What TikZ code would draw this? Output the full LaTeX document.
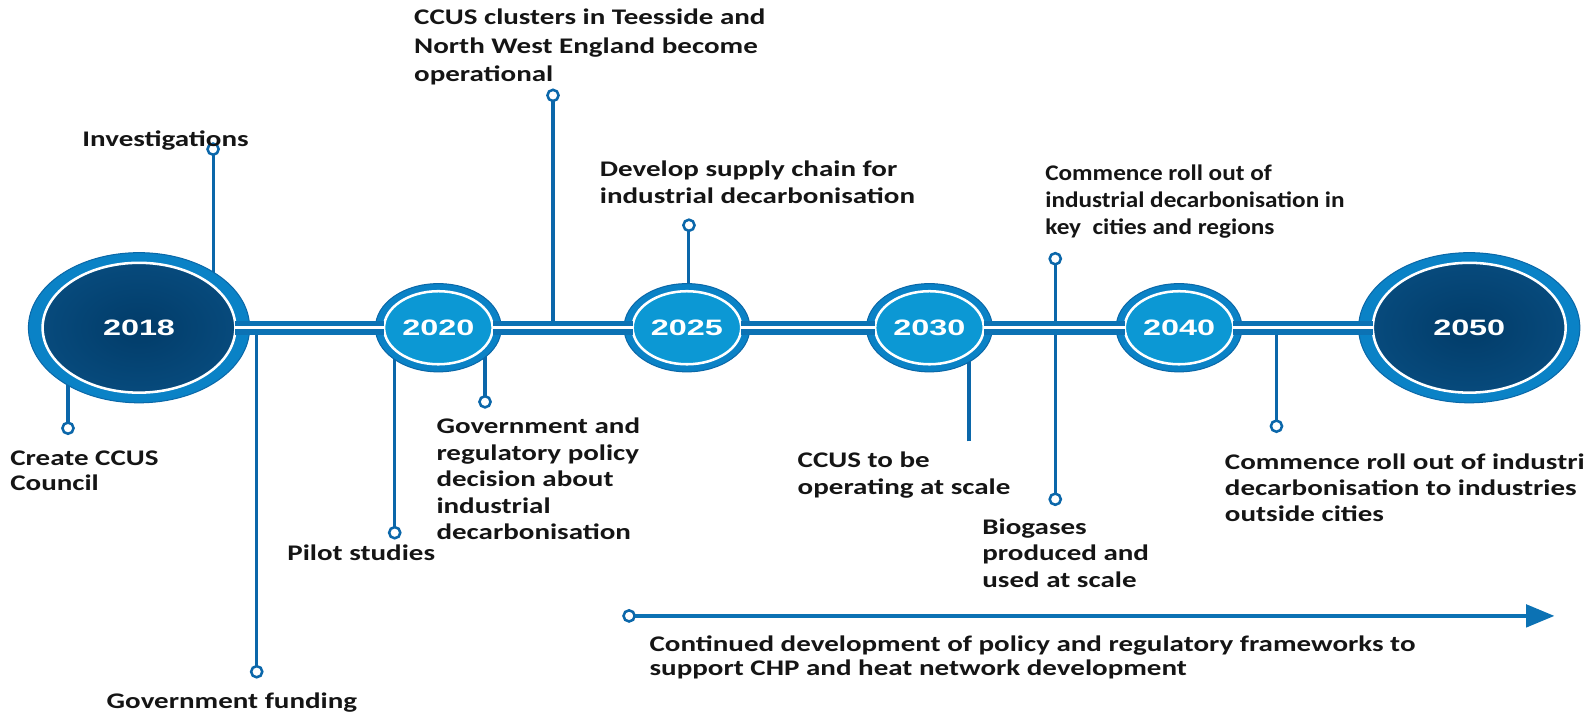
\documentclass[tikz,border=0pt]{standalone}
\usepackage{fontspec}
\setmainfont{Carlito}[FakeStretch=1.30]
\newfontfamily\narrowlbl{Carlito}[FakeStretch=1.13]
\newfontfamily\yearfont{Liberation Sans}[FakeStretch=1.45]
\usetikzlibrary{shapes.geometric,arrows.meta}
\definecolor{ringblue}{HTML}{0A82C6}
\definecolor{ringedge}{HTML}{0A68A8}
\definecolor{lightfill}{HTML}{0C98D4}
\definecolor{darkfill}{HTML}{023C69}
\definecolor{darkedge}{HTML}{074A7C}
\definecolor{stemblue}{HTML}{0B67AA}
\definecolor{bandblue}{HTML}{0C72B4}
\definecolor{txt}{HTML}{151515}
\pgfdeclarelayer{stems}
\pgfdeclarelayer{rings}
\pgfsetlayers{stems,rings,main}
\begin{document}
\begin{tikzpicture}[x=1pt,y=-1pt,
  yearsmall/.style={ellipse, minimum width=107pt, minimum height=72pt, inner sep=0pt, outer sep=0pt,
    fill=lightfill, draw=white, line width=2.5pt, text=white,
    font=\yearfont\bfseries\fontsize{22}{22}\selectfont},
  yearbig/.style={yearsmall, minimum width=190pt, minimum height=128pt,
    shade, shading=radial, inner color=darkfill, outer color=darkedge},
  ringsmall/.style={fill=ringblue, draw=ringedge, line width=1pt},
  band/.style={draw=bandblue, line width=5.5pt, double=white, double distance=3pt},
  stem/.style={draw=stemblue, line width=3pt},
  dot/.style={circle, draw=stemblue, line width=2.5pt, fill=white, minimum size=11pt, inner sep=0pt, outer sep=0pt},
  lbl/.style={font=\bfseries\fontsize{22}{26.5}\selectfont, text=txt, align=left, inner sep=0pt, anchor=north west},
  flow/.style={draw=bandblue, line width=4pt, -{Triangle[length=28pt,width=22pt]}}
]
\useasboundingbox (0,0) rectangle (1568,706);

% year nodes
\node[yearbig]   (y2018) at (137,323) {2018};
\node[yearsmall] (y2020) at (432,323) {2020};
\node[yearsmall] (y2025) at (677,323) {2025};
\node[yearsmall] (y2030) at (916,323) {2030};
\node[yearsmall] (y2040) at (1162,323) {2040};
\node[yearbig]   (y2050) at (1448,323) {2050};

% outer rings
\begin{pgfonlayer}{rings}
  \path[ringsmall] (y2018.center) ellipse [x radius=109, y radius=74];
  \path[ringsmall] (y2020.center) ellipse [x radius=62, y radius=43.5];
  \path[ringsmall] (y2025.center) ellipse [x radius=62, y radius=43.5];
  \path[ringsmall] (y2030.center) ellipse [x radius=62, y radius=43.5];
  \path[ringsmall] (y2040.center) ellipse [x radius=62, y radius=43.5];
  \path[ringsmall] (y2050.center) ellipse [x radius=109, y radius=74];
\end{pgfonlayer}

% main line
\draw[band] (y2018.east) -- (y2020.west);
\draw[band] (y2020.east) -- (y2025.west);
\draw[band] (y2025.east) -- (y2030.west);
\draw[band] (y2030.east) -- (y2040.west);
\draw[band] (y2040.east) -- (y2050.west);

% end dots
\node[dot] (dinv)   at (210,147) {};
\node[dot] (dcreate) at (67,422) {};
\node[dot] (dfund)  at (253,662) {};
\node[dot] (dpilot) at (389,525) {};
\node[dot] (dgov)   at (478,396) {};
\node[dot] (dccus)  at (545,94) {};
\node[dot] (ddev)   at (679,222) {};
\coordinate (escale) at (955,435);
\node[dot] (droll)  at (1040,255) {};
\node[dot] (dbio)   at (1040,492) {};
\node[dot] (dout)   at (1258,420) {};

\begin{pgfonlayer}{stems}
  \draw[stem] (dinv) -- (dinv |- y2018.center);
  \draw[stem] (dcreate) -- (dcreate |- y2018.center);
  \draw[stem] (dfund) -- (dfund |- y2018.center);
  \draw[stem] (dpilot) -- (dpilot |- y2020.center);
  \draw[stem] (dgov) -- (dgov |- y2020.center);
  \draw[stem] (dccus) -- (dccus |- y2020.center);
  \draw[stem] (ddev) -- (ddev |- y2025.center);
  \draw[stem] (escale) -- (escale |- y2030.center);
  \draw[stem] (droll) -- (dbio);
  \draw[stem] (dout) -- (dout |- y2040.center);
\end{pgfonlayer}

% arrow
\node[dot] (dflow) at (620,607) {};
\coordinate (eflow) at (1532,607);
\draw[flow] (dflow) -- (eflow);

% labels
\node[lbl] (tinv) at (81,129) {Investigations};
\node[lbl, font=\bfseries\fontsize{22}{28}\selectfont] (tccus) at (408,9) {CCUS clusters in Teesside and\\North West England become\\operational};
\node[lbl] (tdev) at (591,158) {Develop supply chain for\\industrial decarbonisation};
\node[lbl, font=\narrowlbl\bfseries\fontsize{22}{26.5}\selectfont] (troll) at (1030,162) {Commence roll out of\\industrial decarbonisation in\\key\ \ cities and regions};
\node[lbl, font=\bfseries\fontsize{22}{25}\selectfont] (tcreate) at (10,444) {Create CCUS\\Council};
\node[lbl] (tpilot) at (283,537) {Pilot studies};
\node[lbl, font=\bfseries\fontsize{22}{26}\selectfont] (tgov) at (430,412) {Government and\\regulatory policy\\decision about\\industrial\\decarbonisation};
\node[lbl] (tfund) at (105,683) {Government funding};
\node[lbl] (tscale) at (786,445) {CCUS to be\\operating at scale};
\node[lbl, font=\bfseries\fontsize{22}{26}\selectfont] (tbio) at (968,511) {Biogases\\produced and\\used at scale};
\node[lbl, font=\bfseries\fontsize{22}{25.5}\selectfont] (tout) at (1207,447) {Commence roll out of industri\\decarbonisation to industries\\outside cities};
\node[lbl, font=\bfseries\fontsize{22}{24}\selectfont] (tflow) at (640,626) {Continued development of policy and regulatory frameworks to\\support CHP and heat network development};
\end{tikzpicture}
\end{document}
